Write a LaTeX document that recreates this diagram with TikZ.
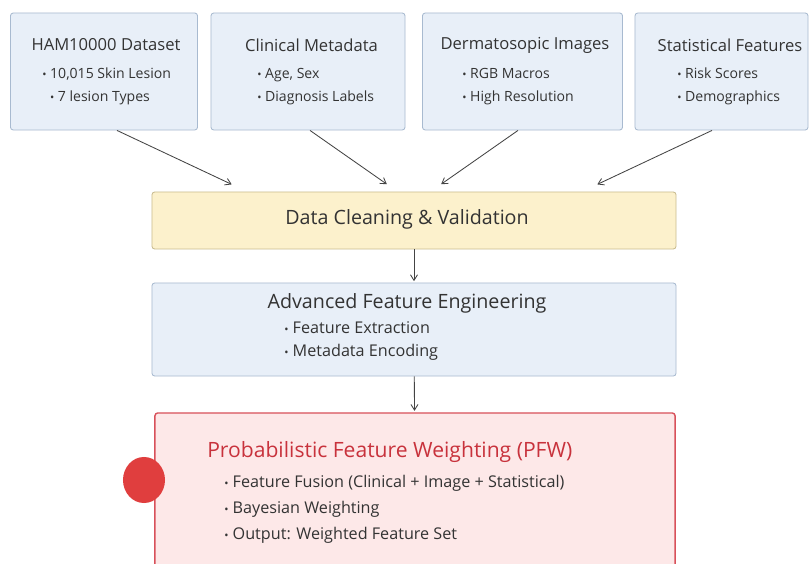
\documentclass[tikz,border=0pt]{standalone}
\usepackage{fontspec}
\setmainfont{Open Sans}
\usepackage{xcolor}
\usetikzlibrary{arrows.meta,positioning,shapes.geometric}

\definecolor{srcfill}{HTML}{E8EFF8}
\definecolor{srcline}{HTML}{A8BAD0}
\definecolor{cleanfill}{HTML}{FCF1CC}
\definecolor{cleanline}{HTML}{C9BC90}
\definecolor{pfwfill}{HTML}{FDE8E8}
\definecolor{pfwline}{HTML}{D8505A}
\definecolor{pfwtext}{HTML}{C8323C}
\definecolor{dotred}{HTML}{E03E3E}
\definecolor{txt}{HTML}{333333}
\definecolor{arr}{HTML}{444444}

\newcommand{\bul}{{\footnotesize\textbullet}\ }

\tikzset{
  srcbox/.style={draw=srcline, fill=srcfill, rounded corners=2pt, line width=0.6pt,
    minimum height=2.925cm},
  wide/.style={rounded corners=2pt, line width=0.6pt, minimum width=13.1cm},
  srctitle/.style={text=txt, inner sep=0pt, font=\fontsize{11.8}{14}\selectfont},
  srclist/.style={anchor=west, align=left, inner sep=0pt, text=txt, font=\fontsize{10}{16.4}\selectfont},
  bigtitle/.style={text=txt, inner sep=0pt, font=\fontsize{14}{16}\selectfont},
  item/.style={anchor=west, align=left, inner sep=0pt, text=txt},
  flow/.style={-{Straight Barb[length=4pt,width=5pt]}, draw=arr, line width=0.6pt, shorten >=1pt},
}

\begin{document}
\begin{tikzpicture}[x=0.025cm, y=-0.025cm]
  \useasboundingbox[fill=white] (0,0) rectangle (809,564);

  % sources
  \node[srcbox, minimum width=4.675cm] (ham) at (104,71.5) {};
  \node[srctitle] (hamtitle) at (106,45) {HAM10000 Dataset};
  \node[srclist] (hamlist) at (42,86.5) {\bul 10,015 Skin Lesion\\ \hspace{5.5pt}\bul 7 lesion Types};

  \node[srcbox, minimum width=4.85cm] (clin) at (308,71.5) {};
  \node[srctitle] (clintitle) at (311.5,45) {Clinical Metadata};
  \node[srclist] (clinlist) at (257,86.5) {\bul Age, Sex\\ \bul Diagnosis Labels};

  \node[srcbox, minimum width=5cm] (derm) at (522.5,71.5) {};
  \node[srctitle] (dermtitle) at (525,45) {Dermatosopic Images};
  \node[srclist] (dermlist) at (462,86.5) {\bul RGB Macros\\ \bul High Resolution};

  \node[srcbox, minimum width=4.325cm] (stat) at (721.5,71.5) {};
  \node[srctitle] (stattitle) at (730,45) {Statistical Features};
  \node[srclist] (statlist) at (677,86.5) {\bul Risk Scores\\ \bul Demographics};

  % cleaning
  \node[wide, draw=cleanline, fill=cleanfill, minimum height=1.425cm] (clean) at (414,220.5) {};
  \node[bigtitle] (cleantitle) at (407,219) {Data Cleaning \& Validation};

  % feature engineering
  \node[wide, draw=srcline, fill=srcfill, minimum height=2.325cm] (afe) at (414,329.5) {};
  \node[bigtitle] (afetitle) at (407,303) {Advanced Feature Engineering};
  \node[item, font=\fontsize{11.5}{17}\selectfont] (afelist) at (284,341) {\bul Feature Extraction\\ \bul Metadata Encoding};

  % pfw
  \node[rounded corners=2pt, line width=1pt, draw=pfwline, fill=pfwfill, minimum width=13cm, minimum height=3.975cm] (pfw) at (415,492.5) {};
  \node[anchor=west, inner sep=0pt, text=pfwtext, font=\fontsize{15}{18}\selectfont] (pfwtitle) at (207,452) {Probabilistic Feature Weighting (PFW)};
  \node[item, font=\fontsize{11.5}{18.5}\selectfont] (pfwlist) at (224,509.5) {\bul Feature Fusion (Clinical + Image + Statistical)\\ \bul Bayesian Weighting\\ \bul Output: Weighted Feature Set};
  \node[ellipse, fill=dotred, minimum width=1.05cm, minimum height=1.15cm, inner sep=0pt] (dot) at (144,480) {};

  % connectors
  \coordinate (in1) at (233,185);
  \coordinate (in2) at (388,185);
  \coordinate (in3) at (440,185);
  \coordinate (in4) at (596,185);
  \draw[flow] (ham.south) ++(13,0) coordinate (out1) -- (in1);
  \draw[flow] (clin.south) ++(2,0) coordinate (out2) -- (in2);
  \draw[flow] (derm.south) ++(-4.5,0) coordinate (out3) -- (in3);
  \draw[flow] (stat.south) ++(-9.5,0) coordinate (out4) -- (in4);
  \draw[flow] (clean) -- (afe);
  \draw[flow] (afe) -- (pfw);
\end{tikzpicture}
\end{document}
